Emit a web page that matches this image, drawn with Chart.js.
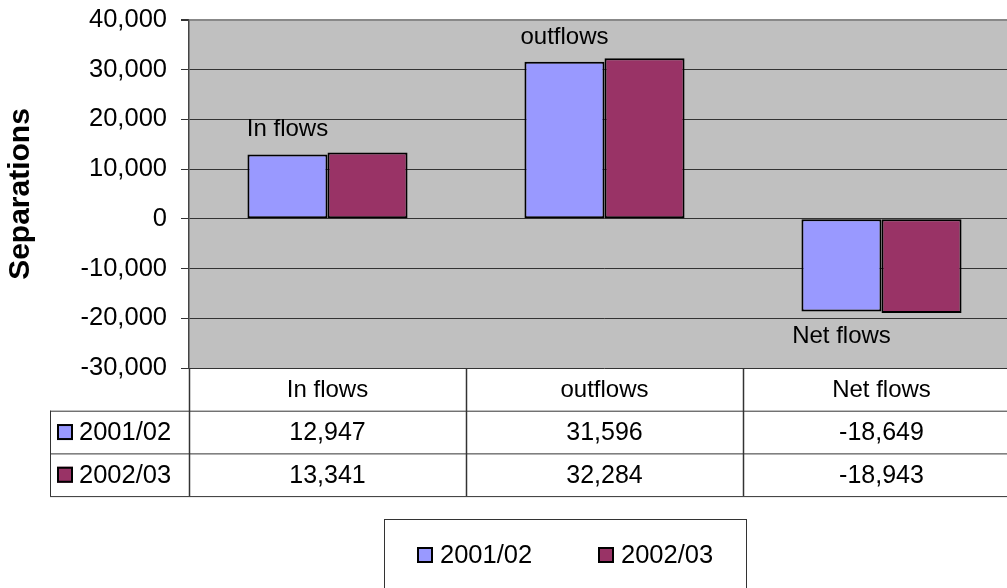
<!DOCTYPE html>
<html>
<head>
<meta charset="utf-8">
<script src="https://cdn.jsdelivr.net/npm/chart.js@4/dist/chart.umd.min.js"></script>
<style>
  html, body { margin: 0; padding: 0; overflow: hidden; background: #fff; }
  #wrap { width: 1020px; height: 588px; position: relative; }
</style>
</head>
<body>
<div id="wrap"><canvas id="c"></canvas></div>
<script>
const categories = ['In flows', 'outflows', 'Net flows'];
const seriesNames = ['2001/02', '2002/03'];
const values2001 = [12947, 31596, -18649];
const values2002 = [13341, 32284, -18943];
const seriesColors = ['#9999FF', '#993366'];
const yMin = -30000, yMax = 40000, yStep = 10000;

const FONT = '"Liberation Sans", Arial, sans-serif';
const fmt = v => v.toLocaleString('en-US');

const tablePlugin = {
  id: 'tablePlugin',
  beforeDraw(chart) {
    const { ctx, chartArea: a } = chart;
    ctx.save();
    ctx.fillStyle = '#C0C0C0';
    ctx.fillRect(a.left, a.top, a.right - a.left, a.bottom - a.top);
    ctx.restore();
  },
  afterDraw(chart) {
    const { ctx, chartArea: a } = chart;
    const xs = chart.scales.x;
    const catW = (a.right - a.left) / categories.length;
    const rowH = 42.7;
    const top = a.bottom;
    const r1 = top + rowH, r2 = top + 2 * rowH, r3 = top + 3 * rowH;
    const tableLeft = 50;
    ctx.save();
    // data labels inside plot (category names near first series bars)
    ctx.font = '24px ' + FONT;
    ctx.fillStyle = '#000';
    ctx.textAlign = 'center';
    ctx.textBaseline = 'alphabetic';
    const meta0 = chart.getDatasetMeta(0);
    meta0.data.forEach((el, i) => {
      const v = values2001[i];
      const y = v >= 0 ? el.y - 18 : el.y + 31;
      ctx.fillText(categories[i], el.x, y);
    });

    // table lines
    ctx.strokeStyle = '#333';
    ctx.lineWidth = 1;
    const line = (x1, y1, x2, y2) => { ctx.beginPath(); ctx.moveTo(x1, y1); ctx.lineTo(x2, y2); ctx.stroke(); };
    line(tableLeft, r1 + 0.5, a.right, r1 + 0.5);
    line(tableLeft, r2 + 0.5, a.right, r2 + 0.5);
    line(tableLeft, r3 + 0.5, a.right, r3 + 0.5);
    line(tableLeft + 0.5, r1, tableLeft + 0.5, r3);
    ctx.lineWidth = 1.5;
    for (let i = 0; i <= categories.length; i++) {
      const x = Math.round(a.left + i * catW) + 0.5;
      line(x, top, x, r3);
    }
    // header texts
    ctx.fillStyle = '#000';
    ctx.textAlign = 'center';
    ctx.textBaseline = 'middle';
    categories.forEach((c, i) => {
      const cx = xs.getPixelForValue(i);
      ctx.font = '24px ' + FONT;
      ctx.fillText(c, cx, (top + r1) / 2 + 1);
      ctx.font = '25px ' + FONT;
      ctx.fillText(fmt(values2001[i]), cx, (r1 + r2) / 2 + 1);
      ctx.fillText(fmt(values2002[i]), cx, (r2 + r3) / 2 + 1);
    });
    // row labels with keys
    const drawKey = (x, y, color) => {
      ctx.fillStyle = color;
      ctx.fillRect(x, y, 16, 16);
      ctx.strokeStyle = '#000';
      ctx.lineWidth = 2;
      ctx.strokeRect(x + 1, y + 1, 14, 14);
    };
    ctx.textAlign = 'left';
    ctx.font = '25.5px ' + FONT;
    [[r1, r2], [r2, r3]].forEach((rr, k) => {
      const cy = (rr[0] + rr[1]) / 2;
      drawKey(57, cy - 8, seriesColors[k]);
      ctx.fillStyle = '#000';
      ctx.fillText(seriesNames[k], 79, cy + 1);
    });
    // legend box
    ctx.strokeStyle = '#333';
    ctx.lineWidth = 1;
    ctx.strokeRect(384.5, 519.5, 362, 100);
    drawKey(417, 547, seriesColors[0]);
    ctx.fillStyle = '#000';
    ctx.fillText(seriesNames[0], 440, 556);
    drawKey(598, 547, seriesColors[1]);
    ctx.fillStyle = '#000';
    ctx.fillText(seriesNames[1], 621, 556);
    ctx.restore();
  }
};

new Chart(document.getElementById('c'), {
  type: 'bar',
  data: {
    labels: categories,
    datasets: [
      { label: seriesNames[0], data: values2001, backgroundColor: seriesColors[0], borderColor: '#000', borderWidth: 2, borderSkipped: false },
      { label: seriesNames[1], data: values2002, backgroundColor: seriesColors[1], borderColor: '#000', borderWidth: 2, borderSkipped: false }
    ]
  },
  options: {
    responsive: true,
    maintainAspectRatio: false,
    animation: false,
    layout: { padding: { top: 20, bottom: 220, left: 0, right: 0 } },
    datasets: { bar: { categoryPercentage: 0.578, barPercentage: 1 } },
    plugins: { legend: { display: false }, tooltip: { enabled: false } },
    scales: {
      x: { display: false, offset: true, grid: { display: false } },
      y: {
        min: yMin, max: yMax,
        afterFit(scale) { scale.width = 189; scale.paddingTop = 0; scale.paddingBottom = 0; },
        border: { display: true, color: '#444', width: 1.5 },
        grid: {
          color: ctx => (ctx.tick && ctx.tick.value === yMax) ? '#888' : '#333',
          lineWidth: ctx => (ctx.tick && ctx.tick.value === yMax) ? 2 : 1,
          tickLength: 8,
          tickColor: '#333'
        },
        ticks: {
          stepSize: yStep,
          padding: 14,
          color: '#000',
          font: { family: FONT, size: 25.5 },
          callback: v => fmt(v)
        },
        title: {
          display: true,
          text: 'Separations',
          color: '#000',
          font: { family: FONT, size: 30, weight: 'bold' },
          padding: { top: 3, bottom: 0 }
        }
      }
    }
  },
  plugins: [tablePlugin]
});
</script>
</body>
</html>
